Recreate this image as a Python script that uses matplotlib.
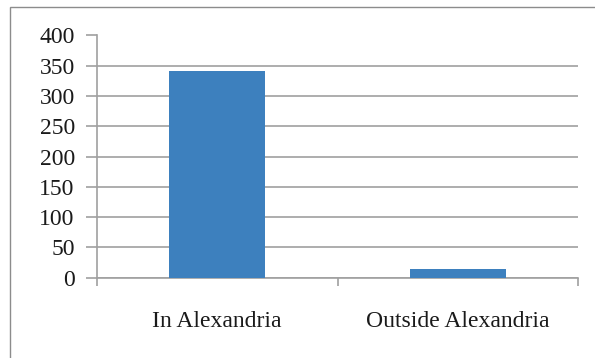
import matplotlib
matplotlib.use("Agg")
import matplotlib.pyplot as plt
from matplotlib.patches import Rectangle

categories = ["In Alexandria", "Outside Alexandria"]
values = [342, 15]
yticks = [0, 50, 100, 150, 200, 250, 300, 350, 400]

plt.rcParams['font.family'] = ['Liberation Serif', 'DejaVu Serif']

fig = plt.figure(figsize=(5.95, 3.58), dpi=100)
W, H = 595, 358
# outer chart border (runs off the right and bottom of the picture)
fig.patches.append(Rectangle((10 / W, -0.05), 1.0, 1 - 7 / H + 0.05,
                             transform=fig.transFigure, fill=False,
                             edgecolor="#8c8c8c", linewidth=1.0))

ax = fig.add_axes([97 / W, 1 - 277.7 / H, (578 - 97) / W, (277.7 - 35.5) / H])
x = list(range(len(categories)))
ax.bar(x, values, width=0.4, color="#3d80be", zorder=3)

ax.set_xlim(-0.5, len(categories) - 0.5)
ax.set_ylim(0, 400)
ax.set_yticks(yticks)
ax.set_yticklabels([str(v) for v in yticks], fontsize=17, color="#1a1a1a")
ax.yaxis.grid(True, color="#a0a0a0", linewidth=1.2, zorder=0)

ax.set_xticks([-0.5, 0.5, 1.5])
ax.set_xticklabels([])
ax.set_xticks(x, minor=True)
ax.set_xticklabels(categories, minor=True, fontsize=17, color="#1a1a1a")
ax.tick_params(axis="x", which="minor", length=0, pad=24)
ax.tick_params(axis="x", which="major", length=6, color="#a0a0a0", width=1.2)
ax.tick_params(axis="y", length=8, color="#a0a0a0", width=1.2, pad=8)

for s in ["top", "right"]:
    ax.spines[s].set_visible(False)
for s in ["left", "bottom"]:
    ax.spines[s].set_color("#a0a0a0")
    ax.spines[s].set_linewidth(1.2)

fig.savefig("out.png", dpi=100)
